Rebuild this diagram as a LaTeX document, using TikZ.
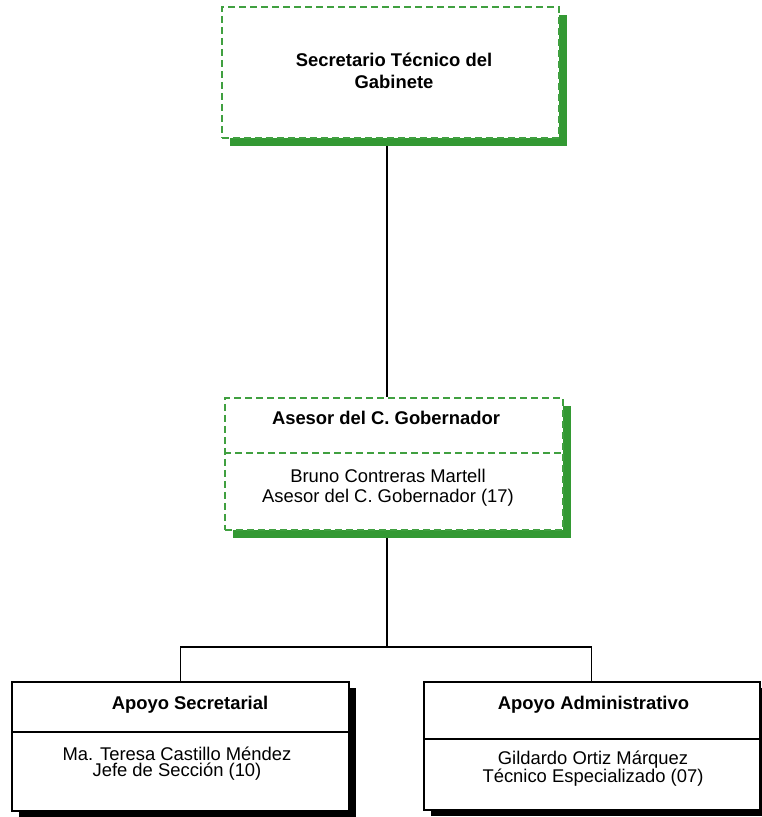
\documentclass[tikz,border=0pt]{standalone}
\usepackage{fontspec}
\setmainfont{Liberation Sans}
\usepackage{xcolor}
\usepackage{tikz}
\usetikzlibrary{positioning,shadows,calc,backgrounds}

\definecolor{dashgreen}{RGB}{64,160,64}
\definecolor{shadegreen}{RGB}{51,153,51}

\begin{document}
\begin{tikzpicture}[x=1pt, y=-1pt,
            greenbox/.style={draw=dashgreen, line width=1.5pt, dash pattern=on 7pt off 4pt, fill=white,
            anchor=north west, inner sep=0pt,
            drop shadow={shadow xshift=8.5pt, shadow yshift=-8pt, fill=shadegreen, opacity=1}},
            blackbox/.style={draw=black, line width=1.5pt, fill=white, anchor=north west, inner sep=0pt,
            drop shadow={shadow xshift=7pt, shadow yshift=-6pt, fill=black, opacity=1}},
            ttl/.style={font=\fontsize{18.4}{21.7}\selectfont\bfseries, inner sep=0pt, align=center},
            txt/.style={font=\fontsize{18.4}{20}\selectfont, inner sep=0pt, align=center},
            link/.style={draw=black, line width=1.3pt}]

            \useasboundingbox (0,0) rectangle (761,817);

            % boxes
            \node[greenbox, minimum width=337pt, minimum height=131pt] (stg) at (221,6) {};
            \node[greenbox, minimum width=338pt, minimum height=132pt] (asesor) at (224,397) {};
            \node[blackbox, minimum width=337pt, minimum height=129pt] (apsec) at (11,681) {};
            \node[blackbox, minimum width=336pt, minimum height=128pt] (apadm) at (423,681) {};

            % dividers
            \draw[draw=dashgreen, line width=1.5pt, dash pattern=on 7pt off 4pt]
            ($(asesor.north west)+(0,56)$) -- ($(asesor.north east)+(0,56)$);
            \draw[line width=1.5pt] ($(apsec.north west)+(0,51)$) -- ($(apsec.north east)+(0,51)$);
            \draw[line width=1.5pt] ($(apadm.north west)+(0,58)$) -- ($(apadm.north east)+(0,58)$);

            % texts
            \node[ttl] (stg-t) at (394,71) {Secretario Técnico del\\Gabinete};
            \node[ttl] (asesor-t) at (386,418) {Asesor del C. Gobernador};
            \node[txt] (asesor-b) at (388,487.5) {Bruno Contreras Martell\\Asesor del C. Gobernador (17)};
            \node[ttl] (apsec-t) at (190,705) {Apoyo Secretarial};
            \node[txt, font=\fontsize{18.4}{16.7}\selectfont] (apsec-b) at (177,763.5)
            {Ma. Teresa Castillo Méndez\\Jefe de Sección (10)};
            \node[ttl] (apadm-t) at (593.5,705) {Apoyo Administrativo};
            \node[txt, font=\fontsize{18.4}{16.7}\selectfont] (apadm-b) at (593,768.5)
            {Gildardo Ortiz Márquez\\Técnico Especializado (07)};

            % connectors (behind the shadows)
            \coordinate (bar) at (387,647);
            \begin{scope}[on background layer]
            \draw[link] (bar |- stg.south) -- (bar |- asesor.north);
            \draw[link] (bar |- asesor.south) -- (bar);
            \draw[link] (apsec.north) |- (bar) -| (apadm.north);
            \end{scope}
        \end{tikzpicture}
\end{document}
